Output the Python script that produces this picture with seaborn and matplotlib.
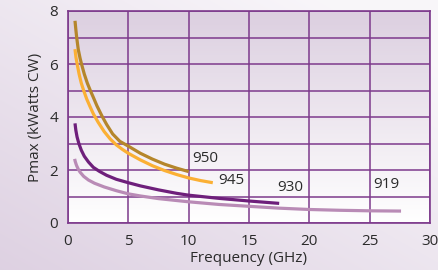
import numpy as np
import pandas as pd
import matplotlib
matplotlib.use("Agg")
import matplotlib.pyplot as plt
import seaborn as sns

# values
freq_950 = [0.58, 0.65, 0.72, 0.85, 1.0, 1.12, 1.35, 1.6, 1.85, 2.1, 2.4, 2.8, 3.2,
            3.7, 4.3, 5.0, 6.0, 7.0, 8.0, 9.0, 10.0]
pmax_950 = [7.63, 7.3, 7.0, 6.55, 6.22, 6.0, 5.62, 5.28, 5.0, 4.74, 4.42, 4.05, 3.72,
            3.36, 3.08, 2.9, 2.63, 2.41, 2.22, 2.07, 1.94]

freq_945 = [0.58, 0.66, 0.78, 0.92, 1.1, 1.3, 1.55, 1.8, 2.1, 2.5, 3.0, 3.5, 4.0,
            4.5, 5.0, 6.0, 7.0, 8.0, 9.0, 10.0, 11.0, 12.0]
pmax_945 = [6.56, 6.25, 5.95, 5.62, 5.28, 5.0, 4.68, 4.42, 4.12, 3.8, 3.45, 3.17, 2.95,
            2.78, 2.63, 2.38, 2.16, 1.98, 1.83, 1.7, 1.6, 1.52]

freq_930 = [0.58, 0.65, 0.75, 0.9, 1.1, 1.35, 1.7, 2.1, 2.6, 3.2, 4.0, 5.0, 6.0,
            7.5, 9.0, 10.0, 12.5, 15.0, 17.5]
pmax_930 = [3.76, 3.5, 3.25, 3.0, 2.75, 2.52, 2.3, 2.1, 1.95, 1.8, 1.65, 1.52, 1.4,
            1.25, 1.12, 1.05, 0.93, 0.83, 0.74]

freq_919 = [0.55, 0.6, 0.7, 0.85, 1.0, 1.3, 1.7, 2.2, 3.0, 4.0, 5.0, 6.0, 7.5,
            10.0, 12.5, 15.0, 17.5, 20.0, 22.5, 25.0, 27.6]
pmax_919 = [2.42, 2.32, 2.18, 2.03, 1.92, 1.76, 1.62, 1.5, 1.36, 1.22, 1.1, 1.02, 0.92,
            0.8, 0.7, 0.63, 0.56, 0.51, 0.48, 0.46, 0.45]

models = ["950", "945", "930", "919"]
label_x = [10.3, 12.45, 17.3, 25.3]
label_y = [2.42, 1.6, 1.33, 1.47]
colors = ["#b5862b", "#fbb034", "#6e1f7b", "#b98bb6"]

frames = []
for m, f, p in zip(models, [freq_950, freq_945, freq_930, freq_919],
                   [pmax_950, pmax_945, pmax_930, pmax_919]):
    frames.append(pd.DataFrame({"Frequency": f, "Pmax": p, "Model": m}))
df = pd.concat(frames, ignore_index=True)

sns.set_theme(style="white")
plt.rcParams["font.family"] = ["Open Sans", "DejaVu Sans"]

grid_col = "#7d3a8c"
text_col = "#2b2b2b"

fig = plt.figure(figsize=(4.39, 2.70), dpi=100)

# figure background gradient
bg = fig.add_axes([0, 0, 1, 1], zorder=-10)
gx, gy = np.meshgrid(np.linspace(0, 1, 200), np.linspace(0, 1, 200))
g = np.clip(0.55 * gx + 0.6 * gy, 0, 1)
c0 = np.array([0.870, 0.820, 0.886])
c1 = np.array([0.975, 0.965, 0.980])
img = c0[None, None, :] * (1 - g[..., None]) + c1[None, None, :] * g[..., None]
bg.imshow(img, origin="lower", extent=[0, 1, 0, 1], aspect="auto")
bg.axis("off")

ax = fig.add_axes([68 / 439, 1 - 223 / 270, 362 / 439, 212 / 270])

# plot area gradient: lavender at top to white at bottom
t = np.linspace(0, 1, 200)[:, None]
top = np.array([0.862, 0.812, 0.878])
bot = np.array([1.0, 1.0, 1.0])
grad = bot[None, :] * (1 - t) + top[None, :] * t
grad = np.repeat(grad[:, None, :], 2, axis=1)
ax.imshow(grad, origin="lower", extent=[0, 30, 0, 8], aspect="auto", zorder=-1)

sns.lineplot(data=df, x="Frequency", y="Pmax", hue="Model", hue_order=models,
             palette=colors, linewidth=2.3, legend=False, sort=False,
             estimator=None, ax=ax, zorder=3, solid_capstyle="butt")

for m, lx, ly in zip(models, label_x, label_y):
    ax.text(lx, ly, m, fontsize=11, color=text_col, va="center", ha="left", zorder=4)

ax.set_xlim(0, 30)
ax.set_ylim(0, 8)
ax.set_xticks([0, 5, 10, 15, 20, 25, 30])
ax.set_yticks([0, 2, 4, 6, 8])
ax.set_yticks(np.arange(0, 9, 1), minor=True)
ax.set_axisbelow(True)
ax.grid(True, which="both", color=grid_col, linewidth=1.1)
ax.tick_params(axis="both", which="both", length=0, labelsize=11, colors=text_col)
ax.tick_params(axis="x", pad=8)
ax.tick_params(axis="y", pad=7)
for s in ax.spines.values():
    s.set_color(grid_col)
    s.set_linewidth(1.2)
    s.set_zorder(5)

ax.set_xlabel("Frequency (GHz)", fontsize=11, color=text_col, labelpad=1)
ax.set_ylabel("Pmax (kWatts CW)", fontsize=11, color=text_col, labelpad=5)

fig.savefig("out.png", dpi=100)
